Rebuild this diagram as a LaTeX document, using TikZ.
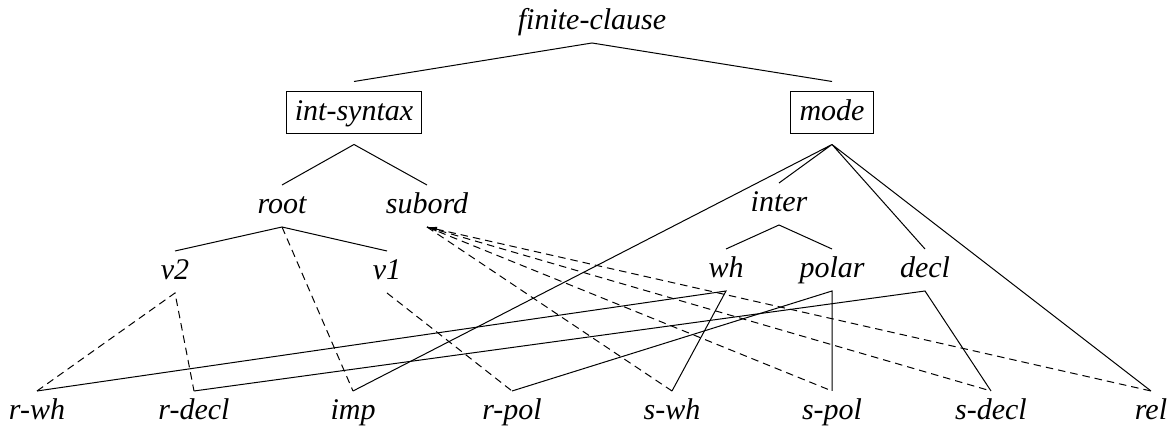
\documentclass[tikz,border=0pt]{standalone}
\usepackage{fontspec}
\setmainfont{Liberation Serif}
\usetikzlibrary{arrows.meta}
\begin{document}
\begin{tikzpicture}[x=0.4pt,y=-0.4pt,
        type/.style={font=\itshape\fontsize{12}{14}\selectfont,inner sep=0pt,text height=9pt,text depth=3pt,outer ysep=2.4pt},
        boxtype/.style={draw,thin,font=\itshape\fontsize{12}{14}\selectfont,inner xsep=3.5pt,inner ysep=2.4pt,text height=9pt,text depth=3pt,outer sep=4.2pt},
        dsa/.style={dash pattern=on 3pt off 2pt}]
                \useasboundingbox (0,0) rectangle (1173,430);
                % top of the hierarchy
                \node[type] (fc) at (592,22) {finite-clause};
                \node[boxtype] (is) at (354,113) {int-syntax};
                \node[boxtype] (mode) at (832,113) {mode};
                \node[type] (root) at (282,206) {root};
                \node[type] (subord) at (427,206) {subord};
                \node[type] (inter) at (779,204) {inter};
                \node[type] (v2) at (175,272) {v2};
                \node[type] (v1) at (387,272) {v1};
                \node[type] (wh) at (726,270) {wh};
                \node[type] (polar) at (832,270) {polar};
                \node[type] (decl) at (925,270) {decl};
                % leaves
                \node[type] (rwh) at (37,412) {r-wh};
                \node[type] (rdecl) at (194,412) {r-decl};
                \node[type] (imp) at (353,412) {imp};
                \node[type] (rpol) at (512,412) {r-pol};
                \node[type] (swh) at (672,412) {s-wh};
                \node[type] (spol) at (832,412) {s-pol};
                \node[type] (sdecl) at (991,412) {s-decl};
                \node[type] (rel) at (1151,412) {rel};
                % solid links
                \draw (is.north) -- (fc.south) -- (mode.north);
                \draw (root.north) -- (is.south) -- (subord.north);
                \draw (imp.north) -- (mode.south) -- (inter.north);
                \draw (decl.north) -- (mode.south) -- (rel.north);
                \draw (v2.north) -- (root.south) -- (v1.north);
                \draw (wh.north) -- (inter.south) -- (polar.north);
                \draw (rwh.north) -- (wh.south) -- (swh.north);
                \draw (rpol.north) -- (polar.south) -- (spol.north);
                \draw (rdecl.north) -- (decl.south) -- (sdecl.north);
                % dashed links
                \draw[dsa] (root.south) -- (imp.north);
                \draw[dsa] (rwh.north) -- (v2.south) -- (rdecl.north);
                \draw[dsa] (v1.south) -- (rpol.north);
                \draw[dsa] (subord.south) -- (swh.north);
                \draw[dsa] (subord.south) -- (spol.north);
                \draw[dsa] (subord.south) -- (sdecl.north);
                \draw[dsa,{Latex[length=4pt,width=2pt]}-] (subord.south) -- (rel.north);
            \end{tikzpicture}
\end{document}
